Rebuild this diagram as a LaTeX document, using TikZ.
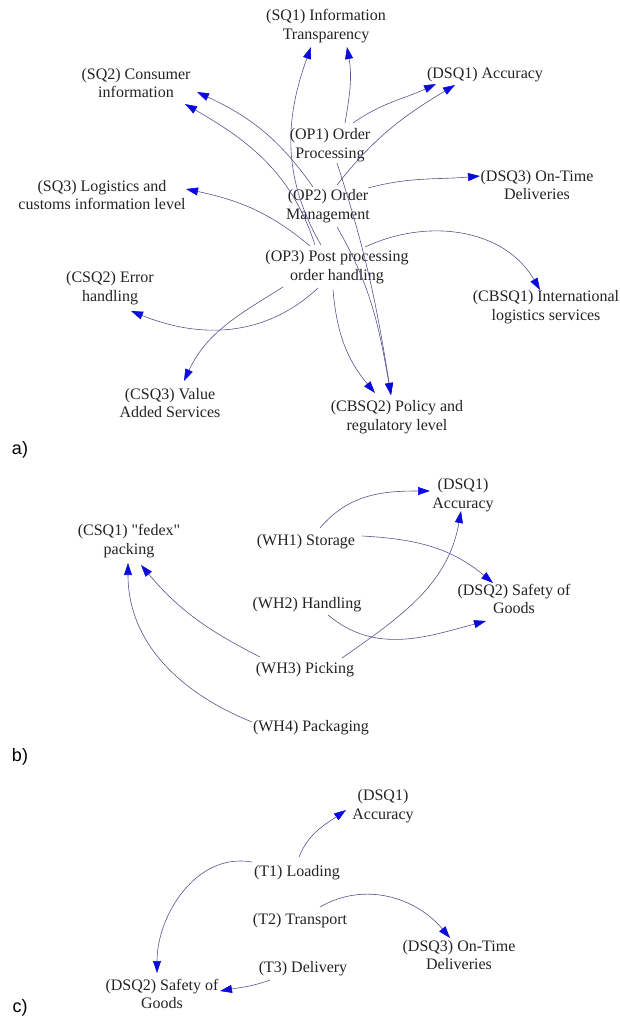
\documentclass[tikz,border=0pt]{standalone}
\usepackage{fontspec}
\newfontfamily\varfont{Liberation Serif}[Ligatures=TeXOff]
\newfontfamily\labfont{Liberation Sans}
\usetikzlibrary{arrows.meta}
\definecolor{edgecol}{RGB}{85,85,145}
\definecolor{tipcol}{RGB}{10,10,220}
\definecolor{txtcol}{RGB}{35,35,35}
\tikzset{
  x=1pt,y=1pt,
  var/.style={align=center, font=\varfont\fontsize{16}{18.5}\selectfont, text=txtcol, inner sep=1pt},
  panel/.style={font=\labfont\fontsize{18}{20}\selectfont, text=black, inner sep=0pt},
  edge/.style={draw=edgecol, line width=0.6pt, -{Triangle[length=12pt,width=8pt,color=tipcol]}}
}
\begin{document}
\begin{tikzpicture}
\useasboundingbox (0,0) rectangle (619,-1020);
% ---------- a) ----------
\node[var] (sq1)   at (326,-26)  {(SQ1) Information\\Transparency};
\node[var] (sq2)   at (136,-83)  {(SQ2) Consumer\\information};
\node[var] (dsq1a) at (485,-75)  {(DSQ1) Accuracy};
\node[var] (op1)   at (330,-145) {(OP1) Order\\Processing};
\node[var] (dsq3a) at (537,-185) {(DSQ3) On-Time\\Deliveries};
\node[var] (sq3)   at (102,-195) {(SQ3) Logistics and\\customs information level};
\node[var] (op2)   at (328,-206) {(OP2) Order\\Management};
\node[var] (op3)   at (337,-267) {(OP3) Post processing\\order handling};
\node[var] (csq2)  at (110,-288) {(CSQ2) Error\\handling};
\node[var] (cbsq1) at (546,-307) {(CBSQ1) International\\logistics services};
\node[var] (csq3)  at (170,-403) {(CSQ3) Value\\Added Services};
\node[var] (cbsq2) at (397,-417) {(CBSQ2) Policy and\\regulatory level};
\node[panel] (la) at (20,-450) {a)};

\draw[edge] ([shift={(-16,22)}]op3.center) to[out=120,in=250] ([shift={(-15,-21)}]sq1.center);
\draw[edge] ([shift={(15,22)}]op1.center) to[out=80,in=-80] ([shift={(21,-21)}]sq1.center);
\draw[edge] ([shift={(23,22)}]op1.center) to[out=35,in=205] ([shift={(-49,-9)}]dsq1a.center);
\draw[edge] ([shift={(9,21)}]op2.center) to[out=52,in=211] ([shift={(-30,-10)}]dsq1a.center);
\draw[edge] ([shift={(40,18)}]op2.center) to[out=15,in=185] ([shift={(-57,9)}]dsq3a.center);
\draw[edge] ([shift={(-15,19)}]op2.center) to[out=125,in=335] ([shift={(61,-9)}]sq2.center);
\draw[edge] ([shift={(-22,22)}]op3.center) to[out=108,in=330] ([shift={(49,-21)}]sq2.center);
\draw[edge] ([shift={(-27,21)}]op3.center) to[out=140,in=348] ([shift={(84,6)}]sq3.center);
\draw[edge] ([shift={(28,20)}]op3.center) to[out=25,in=120] ([shift={(-6,17)}]cbsq1.center);
\draw[edge] ([shift={(-19,-21)}]op3.center) to[out=223,in=338] ([shift={(21,-23)}]csq2.center);
\draw[edge] ([shift={(-54,-20)}]op3.center) to[out=212,in=65] ([shift={(14,22)}]csq3.center);
\draw[edge] ([shift={(-4,-23)}]op3.center) to[out=-85,in=130] ([shift={(-22,24)}]cbsq2.center);
\draw[edge] ([shift={(7,-18)}]op1.center) to[out=-72,in=99] ([shift={(-6,22)}]cbsq2.center);
\draw[edge] ([shift={(9,-21)}]op2.center) to[out=-60,in=100] ([shift={(-6,22)}]cbsq2.center);

% ---------- b) ----------
\node[var] (dsq1b) at (463,-495) {(DSQ1)\\Accuracy};
\node[var] (csq1)  at (129,-541) {(CSQ1) "fedex"\\packing};
\node[var] (wh1)   at (306,-542) {(WH1) Storage};
\node[var] (dsq2b) at (514,-599) {(DSQ2) Safety of\\Goods};
\node[var] (wh2)   at (307,-605) {(WH2) Handling};
\node[var] (wh3)   at (305,-670) {(WH3) Picking};
\node[var] (wh4)   at (311,-728) {(WH4) Packaging};
\node[panel] (lb) at (20,-757) {b)};

\draw[edge] ([shift={(14,14)}]wh1.center) to[out=50,in=180] ([shift={(-33,4)}]dsq1b.center);
\draw[edge] ([shift={(37,12)}]wh3.center) to[out=35,in=-100] ([shift={(-2,-16)}]dsq1b.center);
\draw[edge] ([shift={(56,6)}]wh1.center) to[out=-3,in=140] ([shift={(-21,16)}]dsq2b.center);
\draw[edge] ([shift={(21,-10)}]wh2.center) to[out=-40,in=195] ([shift={(-28,-22)}]dsq2b.center);
\draw[edge] ([shift={(-45,13)}]wh3.center) to[out=153,in=-50] ([shift={(12,-24)}]csq1.center);
\draw[edge] ([shift={(-59,6)}]wh4.center) to[out=158,in=-90] ([shift={(-1,-22)}]csq1.center);

% ---------- c) ----------
\node[var] (dsq1c) at (383,-806) {(DSQ1)\\Accuracy};
\node[var] (t1)    at (297,-873) {(T1) Loading};
\node[var] (t2)    at (300,-921) {(T2) Transport};
\node[var] (dsq3c) at (459,-955) {(DSQ3) On-Time\\Deliveries};
\node[var] (t3)    at (303,-969) {(T3) Delivery};
\node[var] (dsq2c) at (162,-994) {(DSQ2) Safety of\\Goods};
\node[panel] (lc) at (20,-1008) {c)};

\draw[edge] ([shift={(2,16)}]t1.center) to[out=68,in=215] ([shift={(-37,-4)}]dsq1c.center);
\draw[edge] ([shift={(-45,11)}]t1.center) to[out=170,in=90] ([shift={(-5,21)}]dsq2c.center);
\draw[edge] ([shift={(20,14)}]t2.center) to[out=30,in=130] ([shift={(-9,17)}]dsq3c.center);
\draw[edge] ([shift={(-33,-11)}]t3.center) to[out=200,in=10] ([shift={(58,3)}]dsq2c.center);
\end{tikzpicture}
\end{document}
